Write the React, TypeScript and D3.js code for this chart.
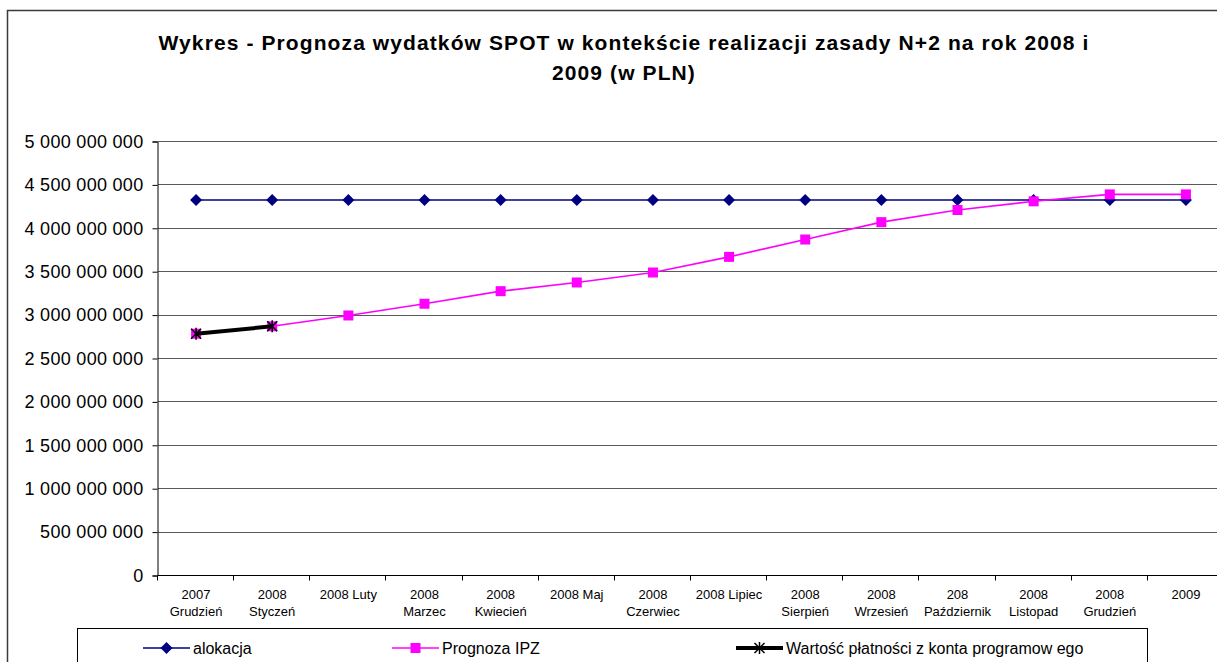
import { useEffect, useRef } from 'react'
import * as d3 from 'd3'

const W = 1217
const H = 662

const categories = [
  '2007\nGrudzień', '2008\nStyczeń', '2008 Luty', '2008\nMarzec', '2008\nKwiecień', '2008 Maj',
  '2008\nCzerwiec', '2008 Lipiec', '2008\nSierpień', '2008\nWrzesień', '208\nPaździernik',
  '2008\nListopad', '2008\nGrudzień', '2009',
]
const alokacja = [
  4.32e9, 4.32e9, 4.32e9, 4.32e9, 4.32e9, 4.32e9, 4.32e9,
  4.32e9, 4.32e9, 4.32e9, 4.32e9, 4.32e9, 4.32e9, 4.32e9,
]
const prognozaIPZ = [
  2.78e9, 2.865e9, 2.99e9, 3.125e9, 3.27e9, 3.37e9, 3.485e9,
  3.665e9, 3.865e9, 4.065e9, 4.205e9, 4.305e9, 4.385e9, 4.385e9,
]
const wartoscPlatnosci: (number | null)[] = [
  2.78e9, 2.865e9, null, null, null, null, null,
  null, null, null, null, null, null, null,
]
const yTicks = [0, 5e8, 1e9, 1.5e9, 2e9, 2.5e9, 3e9, 3.5e9, 4e9, 4.5e9, 5e9]
const titleLines = [
  'Wykres - Prognoza wydatków SPOT w kontekście realizacji zasady N+2 na rok 2008 i',
  '2009 (w PLN)',
]
const legendLabels = ['alokacja', 'Prognoza IPZ', 'Wartość płatności z konta programow ego']

const PLOT = { left: 158, right: 1224, top: 141, bottom: 575 }
const FONT = 'Liberation Sans, Arial, sans-serif'

const fmt = (v: number) => d3.format(',')(v).replace(/,/g, ' ')

const diamond = 'M0,-6L6,0L0,6L-6,0Z'
const square = 'M-5,-5L5,-5L5,5L-5,5Z'
const star = 'M-5,-5L5,5M-5,5L5,-5M0,-6L0,6'

export default function App() {
  const svgRef = useRef<SVGSVGElement>(null)

  useEffect(() => {
    const svg = d3.select(svgRef.current)
    svg.selectAll('*').remove()

    const x = d3.scaleBand<number>()
      .domain(categories.map((_, i) => i))
      .range([PLOT.left, PLOT.right])
    const cx = (i: number) => (x(i) ?? 0) + x.bandwidth() / 2
    const y = d3.scaleLinear().domain([0, 5e9]).range([PLOT.bottom, PLOT.top])

    // ramka wykresu
    svg.append('rect')
      .attr('x', 7.5).attr('y', 10.5)
      .attr('width', W + 20).attr('height', H + 20)
      .attr('fill', '#fff').attr('stroke', '#3a3a3a').attr('stroke-width', 1.5)

    // tytuł
    svg.append('text')
      .attr('text-anchor', 'middle')
      .attr('font-family', FONT).attr('font-weight', 'bold').attr('font-size', 21)
      .attr('letter-spacing', 1.1)
      .selectAll('tspan')
      .data(titleLines)
      .join('tspan')
      .attr('x', 624)
      .attr('y', (_, i) => 50 + i * 30)
      .text(d => d)

    // siatka
    svg.append('g')
      .selectAll('line')
      .data(yTicks.filter(t => t > 0))
      .join('line')
      .attr('x1', PLOT.left).attr('x2', PLOT.right)
      .attr('y1', d => Math.round(y(d)) + 0.5).attr('y2', d => Math.round(y(d)) + 0.5)
      .attr('stroke', '#5a5a5a').attr('stroke-width', 1)

    // oś Y
    const gy = svg.append('g').attr('transform', `translate(${Math.round(PLOT.left) - 0.5},0.5)`)
      .call(d3.axisLeft(y).tickValues(yTicks).tickSize(5).tickPadding(9).tickFormat(d => fmt(+d)))
    gy.select('.domain').attr('stroke', '#000')
    gy.selectAll('line').attr('stroke', '#000')
    gy.selectAll('text').attr('fill', '#000').attr('font-family', FONT).attr('font-size', 18)
      .attr('letter-spacing', 0.3)

    // oś X
    const gx = svg.append('g').attr('transform', `translate(0,${Math.round(PLOT.bottom) + 0.5})`)
    gx.append('line')
      .attr('x1', PLOT.left).attr('x2', PLOT.right)
      .attr('stroke', '#000')
    gx.selectAll('line.tick')
      .data(d3.range(categories.length + 1))
      .join('line')
      .attr('class', 'tick')
      .attr('x1', i => Math.round(PLOT.left + i * x.bandwidth()) - 0.5)
      .attr('x2', i => Math.round(PLOT.left + i * x.bandwidth()) - 0.5)
      .attr('y1', 0).attr('y2', 5)
      .attr('stroke', '#000')
    gx.selectAll('text')
      .data(categories)
      .join('text')
      .attr('text-anchor', 'middle')
      .attr('font-family', FONT).attr('font-size', 13)
      .attr('fill', '#000')
      .each(function (d, i) {
        d3.select(this).selectAll('tspan')
          .data(d.split('\n'))
          .join('tspan')
          .attr('x', cx(i))
          .attr('y', (_, k) => 23 + k * 17)
          .text(t => t)
      })

    // serie
    const lineGen = d3.line<number | null>()
      .defined(d => d != null)
      .x((_, i) => cx(i))
      .y(d => y(d as number))

    svg.append('path').datum(alokacja as (number | null)[])
      .attr('d', lineGen).attr('fill', 'none').attr('stroke', '#000080').attr('stroke-width', 1.6)
    svg.append('g').selectAll('path')
      .data(alokacja)
      .join('path')
      .attr('transform', (d, i) => `translate(${cx(i)},${y(d)})`)
      .attr('d', diamond).attr('fill', '#000080')

    svg.append('path').datum(prognozaIPZ as (number | null)[])
      .attr('d', lineGen).attr('fill', 'none').attr('stroke', '#ff00ff').attr('stroke-width', 1.6)
    svg.append('g').selectAll('path')
      .data(prognozaIPZ)
      .join('path')
      .attr('transform', (d, i) => `translate(${cx(i)},${y(d)})`)
      .attr('d', square).attr('fill', '#ff00ff')

    svg.append('path').datum(wartoscPlatnosci)
      .attr('d', lineGen).attr('fill', 'none').attr('stroke', '#000').attr('stroke-width', 4)
    svg.append('g').selectAll('path')
      .data(wartoscPlatnosci.map((v, i) => ({ v, i })).filter(d => d.v != null))
      .join('path')
      .attr('transform', d => `translate(${cx(d.i)},${y(d.v as number)})`)
      .attr('d', star).attr('fill', 'none').attr('stroke', '#000').attr('stroke-width', 1.5)

    // legenda
    const lg = svg.append('g')
    lg.append('rect')
      .attr('x', 77.5).attr('y', 628.5).attr('width', 1070).attr('height', 60)
      .attr('fill', '#fff').attr('stroke', '#000').attr('stroke-width', 1)
    const items = [
      { label: legendLabels[0], x: 143, color: '#000080', width: 1.6, marker: diamond, fill: true },
      { label: legendLabels[1], x: 392, color: '#ff00ff', width: 1.6, marker: square, fill: true },
      { label: legendLabels[2], x: 736, color: '#000', width: 4, marker: star, fill: false },
    ]
    const ly = 648
    items.forEach(it => {
      lg.append('line')
        .attr('x1', it.x).attr('x2', it.x + 47).attr('y1', ly).attr('y2', ly)
        .attr('stroke', it.color).attr('stroke-width', it.width)
      lg.append('path')
        .attr('transform', `translate(${it.x + 23.5},${ly})`)
        .attr('d', it.marker)
        .attr('fill', it.fill ? it.color : 'none')
        .attr('stroke', it.fill ? 'none' : it.color).attr('stroke-width', 1.5)
      lg.append('text')
        .attr('x', it.x + 50).attr('y', ly + 6)
        .attr('font-family', FONT).attr('font-size', 16).attr('fill', '#000')
        .text(it.label)
    })
  }, [])

  return (
    <svg
      ref={svgRef}
      width={W}
      height={H}
      style={{ position: 'absolute', left: 0, top: 0, background: '#fff' }}
    />
  )
}
